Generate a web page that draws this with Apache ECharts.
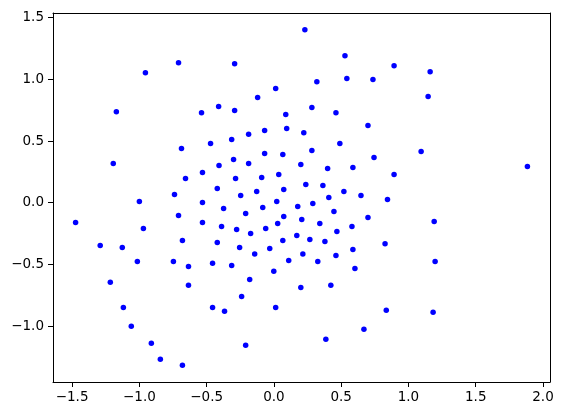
<!DOCTYPE html>
<html>
<head>
<meta charset="utf-8">
<title>Scatter</title>
<script src="https://cdn.jsdelivr.net/npm/echarts@6/dist/echarts.min.js"></script>
<style>
  html, body { margin: 0; padding: 0; background: #fff; }
</style>
</head>
<body>
<div id="main" style="width: 564px; height: 416px;"></div>
<script type="text/javascript">
// point coordinates
var xs = [-1.171, -0.955, -0.709, -0.538, -0.411, 0.230, 0.528, -0.292, 0.319, 0.542,
          0.736, 0.013, -0.121, -0.292, 0.088, 0.282, 0.461, 0.699, -0.188, -0.069,
          0.095, 0.222, 0.893, 1.161, 1.146, -0.687, -0.471, -1.194, -0.531, -0.408,
          -0.657, -0.421, -0.739, -1.000, -0.531, -1.474, -0.709, -0.531, -0.970, -1.291,
          -1.127, -0.680, -0.421, -0.389, -0.314, 0.490, 0.282, 0.744, -0.069, 0.066,
          -0.300, -0.188, 0.200, 0.399, 0.587, -0.285, -0.091, 0.036, -0.128, 0.073,
          0.237, 0.364, 0.520, -0.247, 0.408, 0.647, 0.844, -0.374, -0.083, 0.021,
          0.177, 0.289, -0.210, 0.073, 0.446, 0.699, -0.277, -0.173, -0.061, 0.028,
          0.207, 0.341, 0.468, 0.580, 0.170, -0.255, -0.031, 0.066, 0.267, 0.379,
          0.587, 0.826, -0.143, 0.215, 0.461, 1.094, 0.893, 1.884, 1.191, -1.015,
          -0.747, -0.635, -0.456, -1.216, -0.635, -1.119, -0.456, -1.060, -0.911, -0.844,
          -0.680, -0.314, 0.110, 0.326, 0.602, -0.001, -0.180, 0.200, 0.423, -0.240,
          -0.367, 0.013, 0.835, 0.669, 0.386, -0.210, 1.198, 1.183];
var ys = [0.738, 1.054, 1.135, 0.730, 0.779, 1.402, 1.192, 1.127, 0.981, 1.006,
          0.998, 0.925, 0.852, 0.747, 0.714, 0.771, 0.730, 0.625, 0.555, 0.585,
          0.601, 0.568, 1.111, 1.062, 0.860, 0.439, 0.479, 0.317, 0.245, 0.301,
          0.196, 0.115, 0.066, 0.010, 0.002, -0.160, -0.104, -0.160, -0.209, -0.348,
          -0.363, -0.306, -0.322, -0.193, 0.512, 0.479, 0.423, 0.366, 0.398, 0.390,
          0.350, 0.317, 0.309, 0.277, 0.285, 0.196, 0.204, 0.228, 0.091, 0.107,
          0.147, 0.139, 0.091, 0.058, 0.042, 0.058, 0.026, -0.047, -0.039, 0.010,
          -0.031, -0.006, -0.087, -0.112, -0.071, -0.120, -0.217, -0.249, -0.209, -0.168,
          -0.136, -0.168, -0.233, -0.193, -0.266, -0.363, -0.371, -0.306, -0.298, -0.314,
          -0.379, -0.334, -0.417, -0.417, -0.429, 0.415, 0.228, 0.293, -0.152, -0.476,
          -0.476, -0.517, -0.492, -0.646, -0.670, -0.849, -0.849, -1.002, -1.140, -1.270,
          -1.318, -0.509, -0.468, -0.476, -0.533, -0.557, -0.622, -0.687, -0.670, -0.760,
          -0.881, -0.849, -0.873, -1.027, -1.108, -1.156, -0.476, -0.889];
var xTicks = [-1.5, -1.0, -0.5, 0.0, 0.5, 1.0, 1.5, 2.0];
var yTicks = [-1.0, -0.5, 0.0, 0.5, 1.0, 1.5];

// autoscale like matplotlib: 5% margin on each side
function limits(arr) {
    var lo = Math.min.apply(null, arr), hi = Math.max.apply(null, arr);
    var m = (hi - lo) * 0.05;
    return [lo - m, hi + m];
}
var xl = limits(xs), yl = limits(ys);

function fmt(v) {
    return (v < 0 ? '\u2212' : '') + Math.abs(v).toFixed(1);
}

var points = xs.map(function (x, i) { return [x, ys[i]]; });

var labelStyle = {
    color: '#000',
    fontFamily: 'DejaVu Sans',
    fontSize: 13.5,
    formatter: fmt
};
var spine = { show: true, onZero: false, lineStyle: { color: '#000', width: 1 } };

var myChart = echarts.init(document.getElementById('main'));
myChart.setOption({
    animation: false,
    backgroundColor: '#fff',
    grid: { left: 53, right: 14, top: 13, bottom: 34 },
    xAxis: [{
        type: 'value',
        min: xl[0], max: xl[1],
        splitLine: { show: false },
        axisLine: spine,
        axisTick: { length: 5, lineStyle: { color: '#000' }, customValues: xTicks },
        axisLabel: Object.assign({ margin: 8, customValues: xTicks }, labelStyle)
    }, {
        // top spine
        type: 'value', position: 'top',
        min: xl[0], max: xl[1],
        axisLine: spine, axisTick: { show: false }, axisLabel: { show: false },
        splitLine: { show: false }
    }],
    yAxis: [{
        type: 'value',
        min: yl[0], max: yl[1],
        splitLine: { show: false },
        axisLine: spine,
        axisTick: { show: true, length: 5, lineStyle: { color: '#000' }, customValues: yTicks },
        axisLabel: Object.assign({ margin: 9, customValues: yTicks }, labelStyle)
    }, {
        // right spine
        type: 'value', position: 'right',
        min: yl[0], max: yl[1],
        axisLine: spine, axisTick: { show: false }, axisLabel: { show: false },
        splitLine: { show: false }
    }],
    series: [{
        type: 'scatter',
        data: points,
        symbol: 'circle',
        symbolSize: 5.5,
        itemStyle: { color: '#0000ff', opacity: 1 }
    }]
});
</script>
</body>
</html>
